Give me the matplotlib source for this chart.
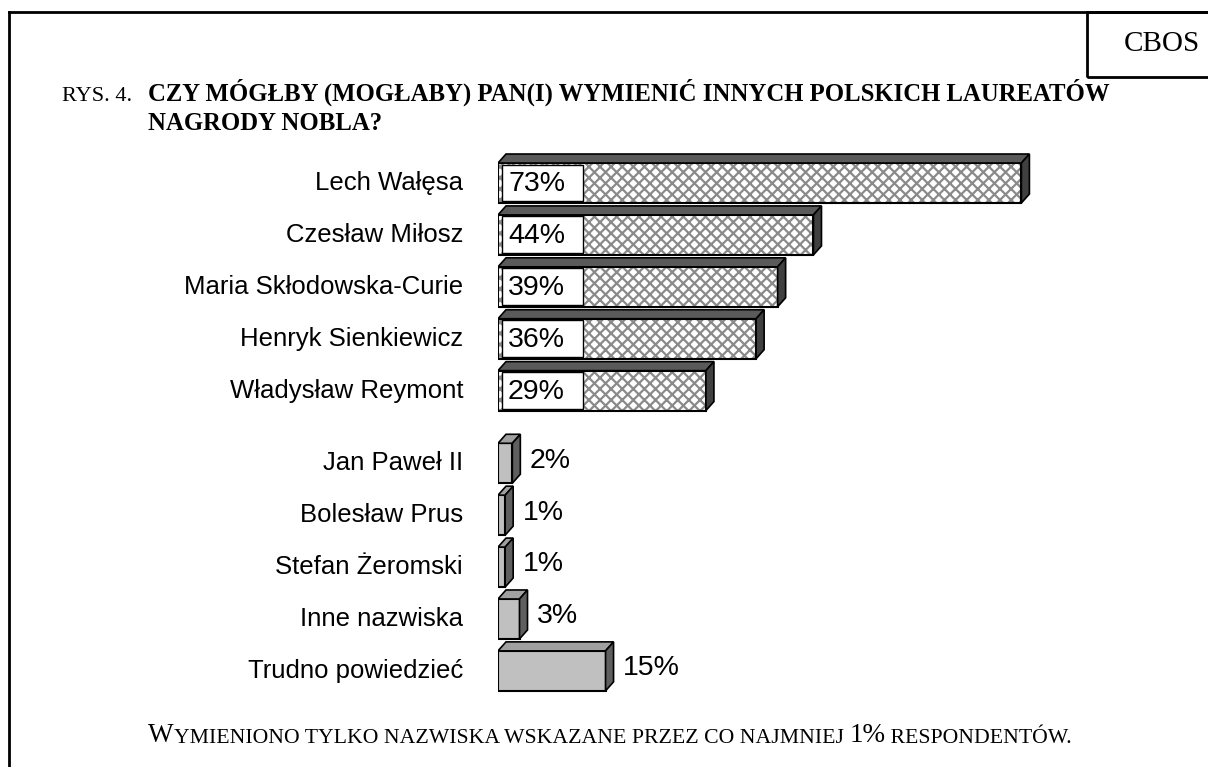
import matplotlib.pyplot as plt
from matplotlib.patches import Rectangle, Polygon
from matplotlib.lines import Line2D

plt.rcParams['font.family'] = ['Liberation Sans', 'DejaVu Sans']
plt.rcParams['hatch.linewidth'] = 1.6

# data
laureates = ['Lech Wałęsa', 'Czesław Miłosz', 'Maria Skłodowska-Curie',
             'Henryk Sienkiewicz', 'Władysław Reymont']
laureate_vals = [73, 44, 39, 36, 29]
others = ['Jan Paweł II', 'Bolesław Prus', 'Stefan Żeromski',
          'Inne nazwiska', 'Trudno powiedzieć']
other_vals = [2, 1, 1, 3, 15]

W, H = 1208, 767
fig = plt.figure(figsize=(W / 100, H / 100), dpi=100)

# axes placed so that 0% sits at x=498 px, 1% = 7.17 px
px_per_pct = 7.17
ax_left, ax_right = 498, 1100
ax_top, ax_bot = 130, 700
slot = 51.9
first_center = 183
ax = fig.add_axes([ax_left / W, 1 - ax_bot / H, (ax_right - ax_left) / W, (ax_bot - ax_top) / H])
ax.set_xlim(0, (ax_right - ax_left) / px_per_pct)
ax.set_ylim((ax_bot - first_center) / slot, (ax_top - first_center) / slot)
ax.axis('off')

gap = 1.4
pos1 = [i for i in range(len(laureates))]
pos2 = [len(laureates) - 1 + gap + i for i in range(len(others))]

h = 0.77
dx = 8 / px_per_pct
dy = 9 / slot


def bar3d(y, v, front_kw, top_c, side_c):
    y0, y1 = y - h / 2, y + h / 2
    ax.add_patch(Rectangle((0, y0), v, h, **front_kw))
    ax.add_patch(Rectangle((0, y0), v, h, fill=False, edgecolor='black', lw=1.5, zorder=3))
    top = Polygon([(0, y0), (v, y0), (v + dx, y0 - dy), (dx, y0 - dy)], closed=True,
                  facecolor=top_c, edgecolor='black', lw=1.2, zorder=3)
    side = Polygon([(v, y0), (v + dx, y0 - dy), (v + dx, y1 - dy), (v, y1)], closed=True,
                   facecolor=side_c, edgecolor='black', lw=1.2, zorder=3)
    ax.add_patch(top)
    ax.add_patch(side)


for y, v in zip(pos1, laureate_vals):
    bar3d(y, v, dict(facecolor='white', edgecolor='#8a8a8a', hatch='xxx', lw=0, zorder=2),
          '#5a5a5a', '#404040')
    ax.add_patch(Rectangle((0.55, y - h / 2 + 0.03), 11.3, h - 0.06, facecolor='white',
                           edgecolor='black', lw=1.0, zorder=4))
    ax.text(1.4, y + 0.02, f'{v}%', fontsize=20.5, va='center', ha='left', zorder=5)

for y, v in zip(pos2, other_vals):
    bar3d(y, v, dict(facecolor='#c0c0c0', edgecolor='none', zorder=2), '#a0a0a0', '#5f5f5f')
    ax.text(v + dx + 1.3, y - 0.05, f'{v}%', fontsize=20.5, va='center', ha='left', zorder=5)

for y, lab in zip(pos1 + pos2, laureates + others):
    ax.text(-35 / px_per_pct, y, lab, fontsize=18.5, ha='right', va='center')

# frame and CBOS box
fig.add_artist(Line2D([9 / W, 9 / W], [0, 1 - 12 / H], color='black', lw=2))
fig.add_artist(Line2D([9 / W, 1], [1 - 12 / H, 1 - 12 / H], color='black', lw=2))
fig.add_artist(Rectangle((1087 / W, 1 - 77 / H), 130 / W, 65 / H, fill=False,
                         edgecolor='black', lw=2))
fig.text(1162 / W, 1 - 44 / H, 'CBOS', fontsize=21, family='Liberation Serif',
         ha='center', va='center')

# title
fig.text(62 / W, 1 - 101 / H, 'RYS. 4.', fontsize=16, family='Liberation Serif',
         va='baseline')
fig.text(148 / W, 1 - 101 / H, 'CZY MÓGŁBY (MOGŁABY) PAN(I) WYMIENIĆ INNYCH POLSKICH LAUREATÓW',
         fontsize=17.8, family='Liberation Serif', weight='bold', va='baseline')
fig.text(148 / W, 1 - 130 / H, 'NAGRODY NOBLA?', fontsize=17.8, family='Liberation Serif',
         weight='bold', va='baseline')

# footer in small caps, pieces chained one after another
big, small = 19.5, 15.7
parts = [('W', big), ('YMIENIONO TYLKO NAZWISKA WSKAZANE PRZEZ CO NAJMNIEJ ', small),
         ('1%', big), (' RESPONDENTÓW.', small)]
anchor = fig.text(148 / W, 1 - 742 / H, parts[0][0], fontsize=parts[0][1],
                  family='Liberation Serif', va='baseline')
for txt, fs in parts[1:]:
    anchor = fig.add_artist(plt.Annotation(txt, xy=(1, 0), xycoords=anchor,
                                           fontsize=fs, family='Liberation Serif',
                                           va='bottom', ha='left'))

fig.savefig('out.png', dpi=100)
